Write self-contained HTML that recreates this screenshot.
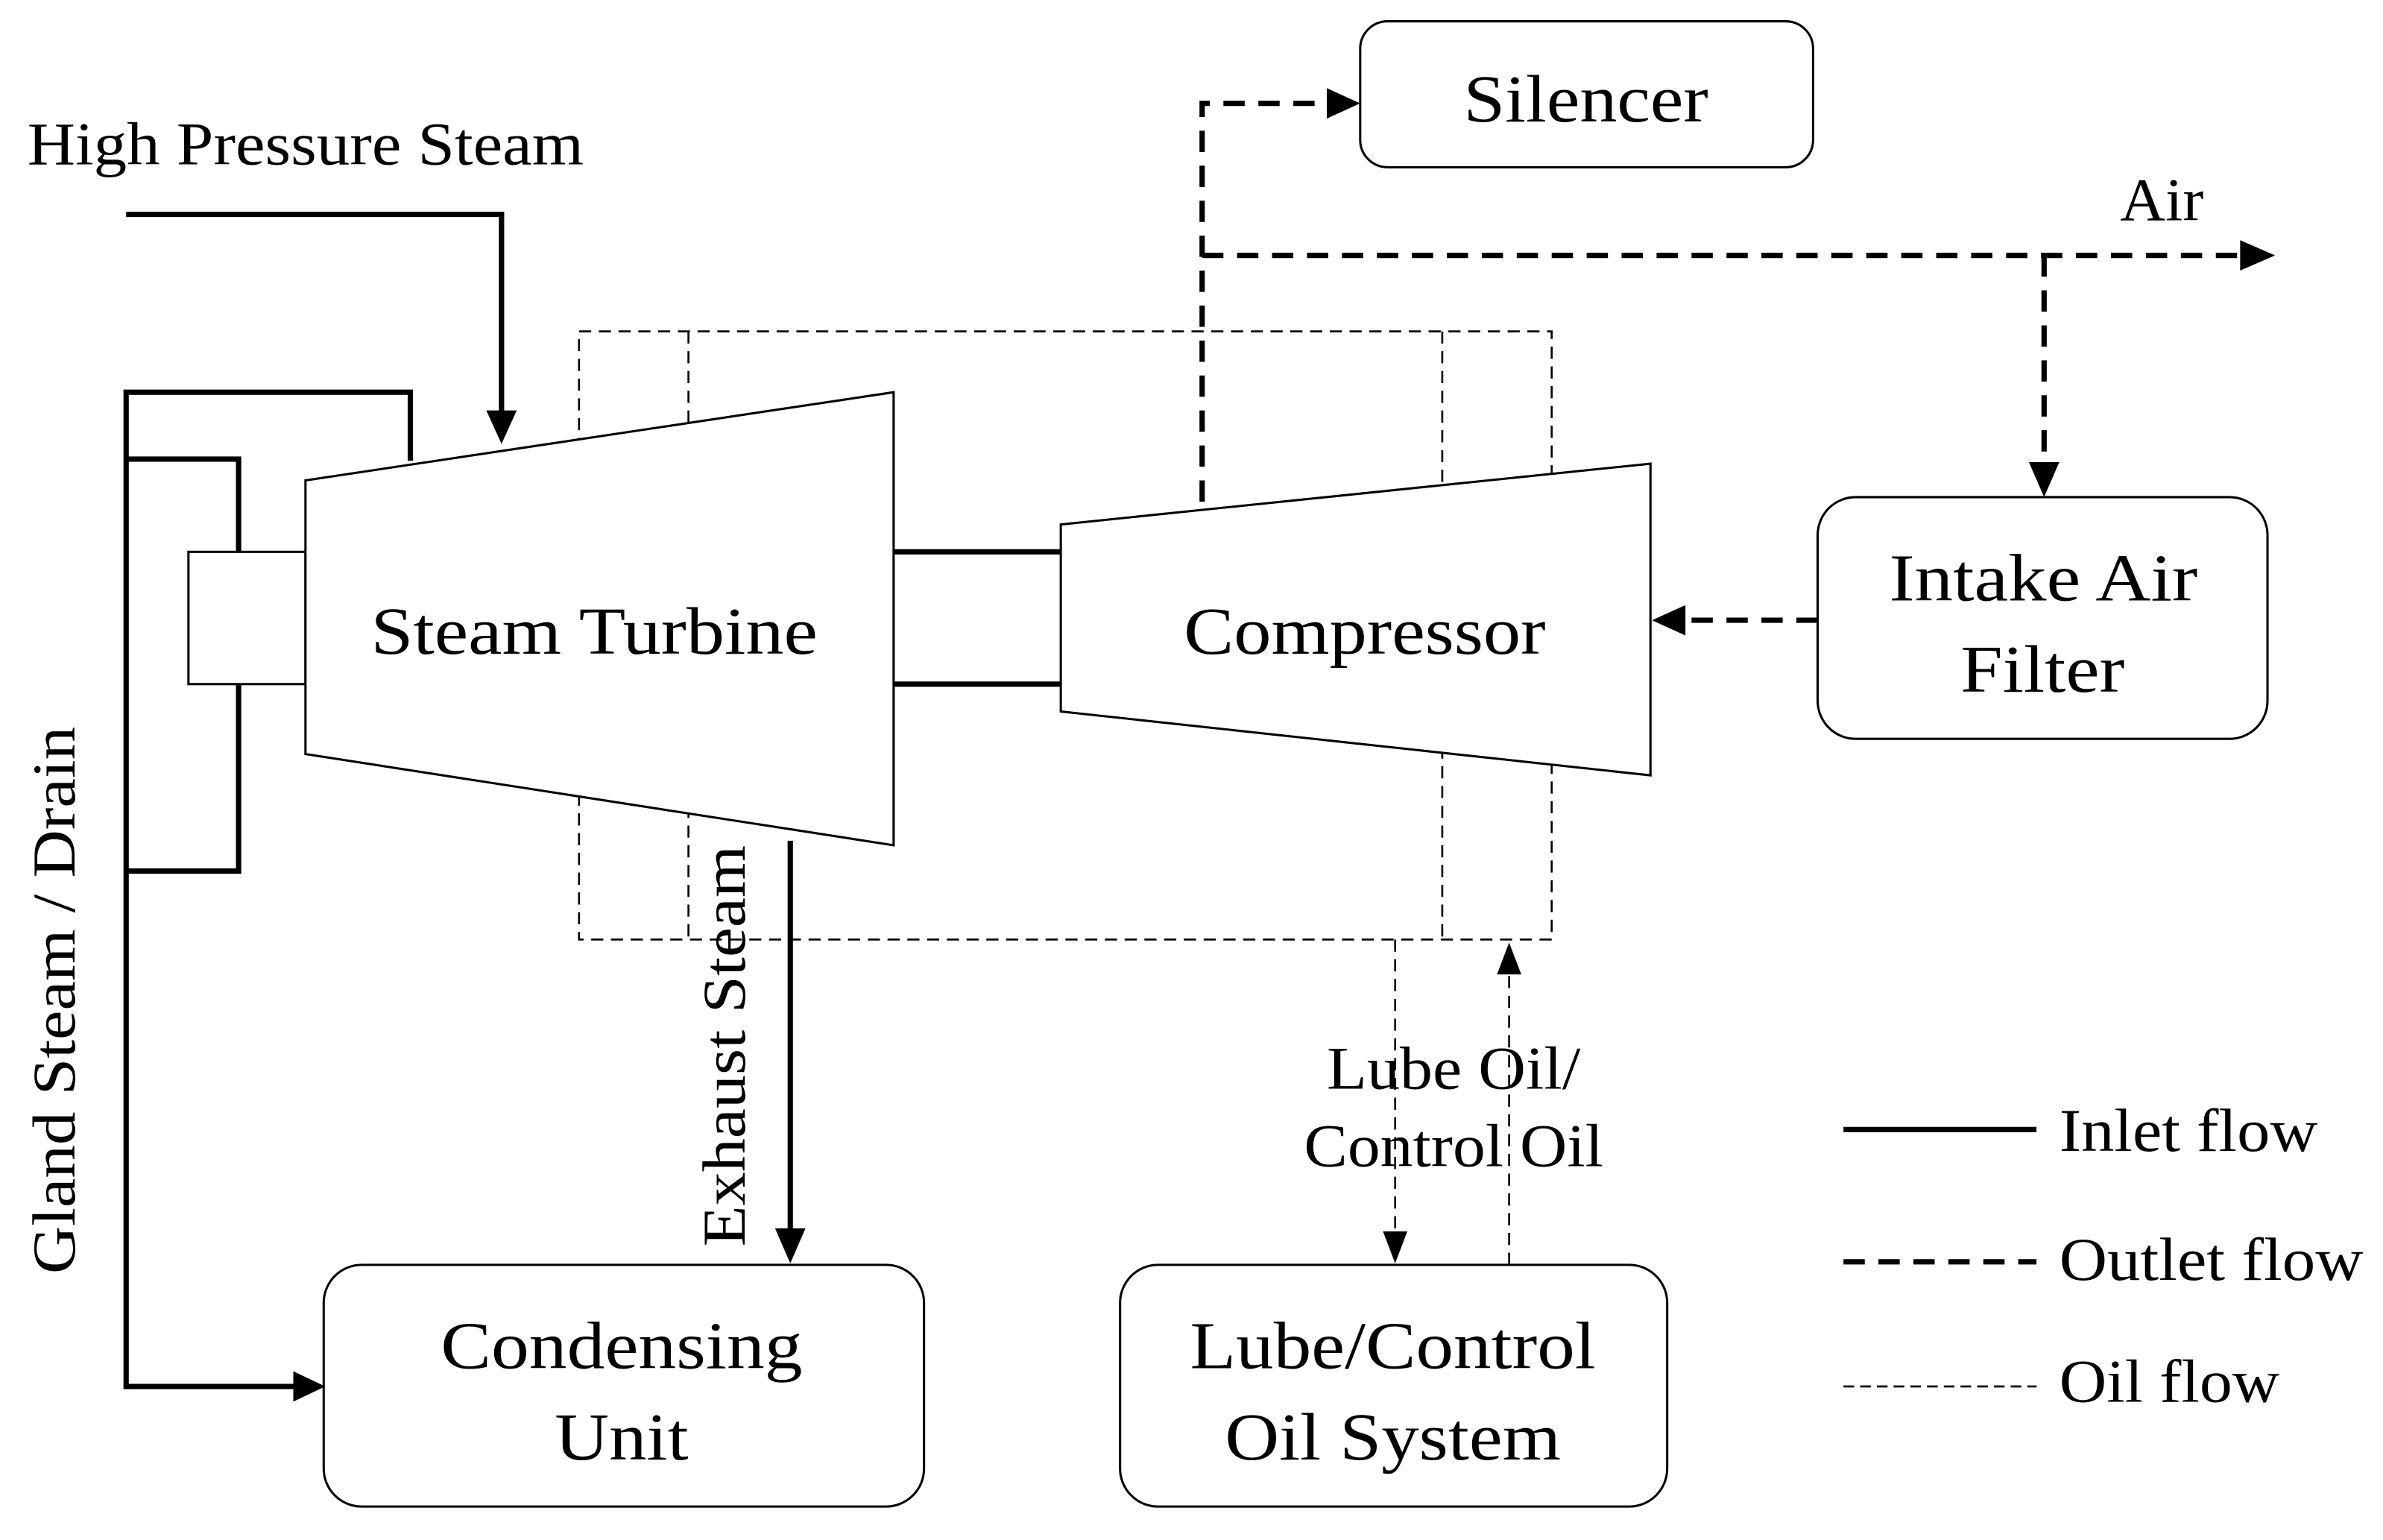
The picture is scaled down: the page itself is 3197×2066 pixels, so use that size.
<!DOCTYPE html>
<html><head><meta charset="utf-8"><style>html,body{margin:0;padding:0;background:#fff}svg{display:block}</style></head>
<body>
<svg width="3197" height="2066" viewBox="0 0 1568 1013" preserveAspectRatio="none" xmlns="http://www.w3.org/2000/svg" font-family="'Liberation Serif', serif" fill="#000">
<rect width="1568" height="1013" fill="#fff"/>
<g stroke="#000" stroke-width="1.3" fill="none" stroke-dasharray="8,5">
<rect x="381" y="218" width="640" height="400"/>
<line x1="453" y1="218" x2="453" y2="618"/>
<line x1="949" y1="218" x2="949" y2="618"/>
<line x1="918" y1="618" x2="918" y2="812"/>
<line x1="993" y1="642" x2="993" y2="832"/>
</g>
<polygon points="910,810 926,810 918,831" />
<polygon points="985,641 1001,641 993,620" />
<rect x="124" y="363" width="77" height="87" fill="#fff" stroke="#000" stroke-width="1.5"/>
<polygon points="201,316 588,258 588,556 201,496" fill="#fff" stroke="#000" stroke-width="1.5"/>
<polygon points="698,345 1086,305 1086,510 698,468" fill="#fff" stroke="#000" stroke-width="1.5"/>
<g stroke="#000" stroke-width="3.5" fill="none">
<line x1="588" y1="363" x2="698" y2="363"/>
<line x1="588" y1="450" x2="698" y2="450"/>
<polyline points="83,141 330,141 330,272"/>
<polyline points="270,303 270,258 83,258 83,912 196,912"/>
<polyline points="83,302 157,302 157,363"/>
<polyline points="157,450 157,573 83,573"/>
<line x1="520" y1="553" x2="520" y2="810"/>
<line x1="1213" y1="743" x2="1340" y2="743"/>
</g>
<polygon points="320,270 340,270 330,292"/>
<polygon points="193,902 193,922 214,912"/>
<polygon points="510,808 530,808 520,831"/>
<g stroke="#000" stroke-width="3.5" fill="none" stroke-dasharray="14,9">
<polyline points="791,330 791,68 876,68"/>
<line x1="791" y1="168" x2="1476" y2="168"/>
<line x1="1345" y1="168" x2="1345" y2="306"/>
<line x1="1196" y1="408" x2="1106" y2="408"/>
<line x1="1213" y1="830" x2="1340" y2="830"/>
</g>
<polygon points="873,58 873,78 895,68"/>
<polygon points="1474,158 1474,178 1497,168"/>
<polygon points="1335,304 1355,304 1345,327"/>
<polygon points="1109,398 1109,418 1087,408"/>
<line x1="1213" y1="912" x2="1340" y2="912" stroke="#000" stroke-width="1.3" stroke-dasharray="7,4"/>
<g fill="#fff" stroke="#000" stroke-width="1.5">
<rect x="895" y="14" width="298" height="96" rx="18"/>
<rect x="1196" y="327" width="296" height="159" rx="25"/>
<rect x="213" y="832" width="395" height="159" rx="25"/>
<rect x="737" y="832" width="360" height="159" rx="25"/>
</g>
<g font-size="40">
<text x="18" y="108" textLength="366" lengthAdjust="spacingAndGlyphs">High Pressure Steam</text>
<text x="1395" y="145" textLength="55" lengthAdjust="spacingAndGlyphs">Air</text>
<text x="873" y="716" textLength="167" lengthAdjust="spacingAndGlyphs">Lube Oil/</text>
<text x="858" y="767" textLength="197" lengthAdjust="spacingAndGlyphs">Control Oil</text>
<text x="1355" y="757" textLength="170" lengthAdjust="spacingAndGlyphs">Inlet flow</text>
<text x="1355" y="842" textLength="200" lengthAdjust="spacingAndGlyphs">Outlet flow</text>
<text x="1355" y="922" textLength="145" lengthAdjust="spacingAndGlyphs">Oil flow</text>
<text transform="translate(49,838) rotate(-90)" textLength="360" lengthAdjust="spacingAndGlyphs">Gland Steam / Drain</text>
<text transform="translate(490,820) rotate(-90)" textLength="264" lengthAdjust="spacingAndGlyphs">Exhaust Steam</text>
</g>
<g font-size="44">
<text x="244" y="430" textLength="294" lengthAdjust="spacingAndGlyphs">Steam Turbine</text>
<text x="779" y="430" textLength="238" lengthAdjust="spacingAndGlyphs">Compressor</text>
<text x="963" y="80" textLength="161" lengthAdjust="spacingAndGlyphs">Silencer</text>
<text x="1243" y="395" textLength="203" lengthAdjust="spacingAndGlyphs">Intake Air</text>
<text x="1290" y="455" textLength="108" lengthAdjust="spacingAndGlyphs">Filter</text>
<text x="290" y="900" textLength="238" lengthAdjust="spacingAndGlyphs">Condensing</text>
<text x="365" y="960" textLength="88" lengthAdjust="spacingAndGlyphs">Unit</text>
<text x="783" y="900" textLength="267" lengthAdjust="spacingAndGlyphs">Lube/Control</text>
<text x="806" y="960" textLength="221" lengthAdjust="spacingAndGlyphs">Oil System</text>
</g>
</svg>
</body></html>
